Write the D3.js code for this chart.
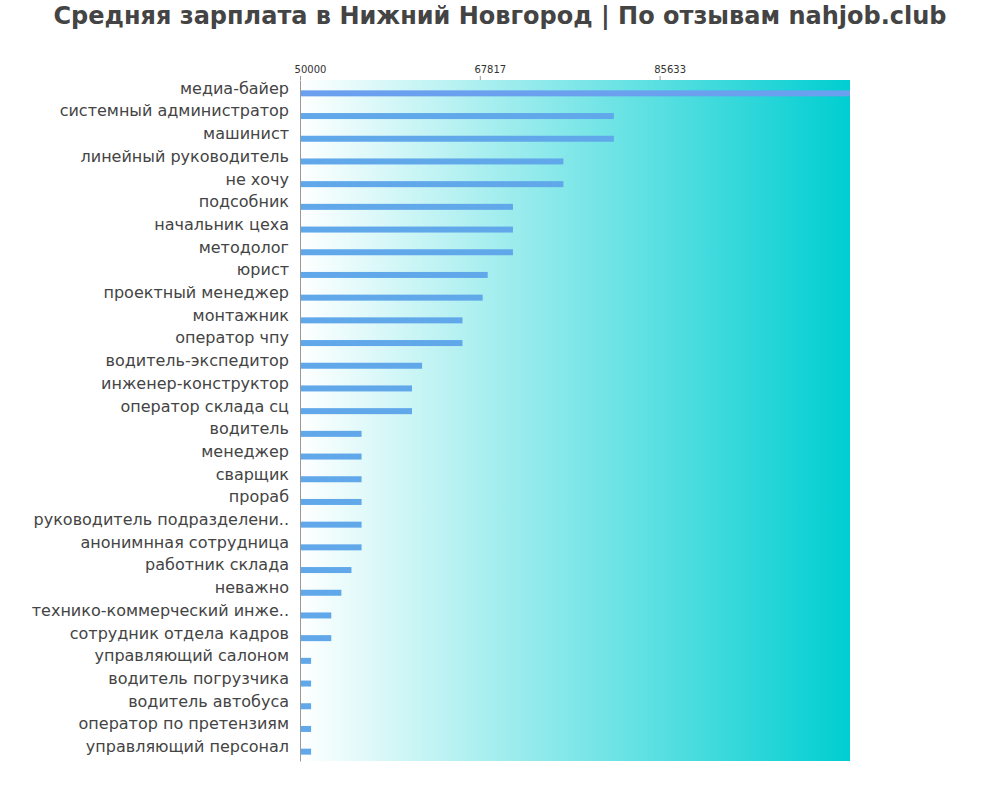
<!DOCTYPE html>
<html><head><meta charset="utf-8">
<script src="https://cdn.jsdelivr.net/npm/d3@7"></script>
<style>body{margin:0;background:#fff}</style>
</head><body><svg></svg>
<script>
let jobs = ["медиа-байер","системный администратор","машинист","линейный руководитель","не хочу",
  "подсобник","начальник цеха","методолог","юрист","проектный менеджер","монтажник","оператор чпу",
  "водитель-экспедитор","инженер-конструктор","оператор склада сц","водитель","менеджер","сварщик",
  "прораб","руководитель подразделени..","анонимнная сотрудница","работник склада","неважно",
  "технико-коммерческий инже..","сотрудник отдела кадров","управляющий салоном","водитель погрузчика",
  "водитель автобуса","оператор по претензиям","управляющий персонал"];
let salaries = [104500,81100,81100,76100,76100,71100,71100,71100,68600,68100,66100,66100,
  62100,61100,61100,56100,56100,56100,56100,56100,56100,55100,54100,53100,53100,51100,51100,51100,51100,51100];
let ticks = [50000,67817,85633];

let margin = {top: 80, left: 300, right: 150, bottom: 39};
let width = 1000 - margin.left - margin.right;
let height = 800 - margin.top - margin.bottom;

let svg = d3.select("svg").attr("width",1000).attr("height",800)
  .style("font-family","DejaVu Sans");

let grad = svg.append("defs").append("linearGradient").attr("id","bg");
grad.append("stop").attr("offset","0%").attr("stop-color","#ffffff");
grad.append("stop").attr("offset","100%").attr("stop-color","#00ced1");

svg.append("text").attr("x",500).attr("y",24).attr("text-anchor","middle")
  .attr("font-size",24).attr("font-weight","bold").attr("fill","#444")
  .text("Средняя зарплата в Нижний Новгород | По отзывам nahjob.club");

let g = svg.append("g").attr("transform",`translate(${margin.left},${margin.top})`);

let x = d3.scaleLinear().domain([50000,104500]).range([0,width]);
let y = d3.scaleBand().domain(jobs).range([0,height]);

g.append("rect").attr("width",width).attr("height",height).attr("fill","url(#bg)");

g.selectAll(".bar").data(jobs).join("rect")
  .attr("x",0).attr("y",d=>y(d)+y.bandwidth()/2 - 1)
  .attr("width",(d,i)=>x(salaries[i])).attr("height",6)
  .attr("fill",(d,i)=>i==0?"#6aa0ee":"#60a8ea");

let xa = g.append("g")
  .call(d3.axisTop(x).tickValues(ticks).tickFormat(d3.format("d")).tickSize(4));
xa.attr("font-family","DejaVu Sans");
xa.select(".domain").remove();
xa.selectAll("text").attr("font-size",10).attr("fill","#333").attr("dx",10);
xa.selectAll("line").attr("stroke","#999");

let ya = g.append("g").call(d3.axisLeft(y).tickSize(0).tickPadding(11));
ya.attr("font-family","DejaVu Sans");
ya.select(".domain").attr("stroke","#999");
ya.selectAll("text").attr("font-size",16).attr("fill","#444").attr("dy","0.15em");
</script></body></html>
